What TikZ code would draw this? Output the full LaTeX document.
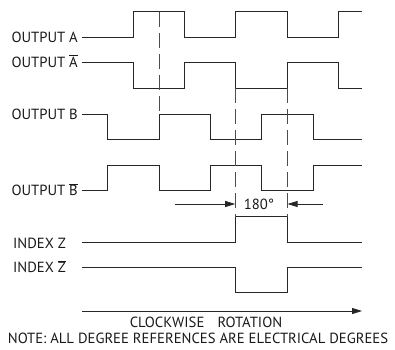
\documentclass[tikz,border=0pt]{standalone}
\usepackage{fontspec}
\setmainfont{PT Sans}
\usetikzlibrary{arrows.meta}
\newcommand\ovlbar[1]{\ensuremath{\overline{\mbox{#1}}}}
\begin{document}
\begin{tikzpicture}[x=1pt,y=-1pt,
  sig/.style={line width=1pt, draw=black!85, line join=miter},
  dsh/.style={line width=1pt, draw=black!70, dash pattern=on 15pt off 6pt},
  txt/.style={font=\fontsize{14.7}{16}\selectfont, inner sep=0pt, text=black!90},
  lbl/.style={txt, anchor=base east},
  arr/.style={line width=0.8pt, draw=black!85, -{Triangle[length=10pt,width=6pt]}}]
\useasboundingbox (0,0) rectangle (395,349);
% labels
\node[lbl] (la)  at (78,42.3) {OUTPUT A};
\node[lbl] (lab) at (78,67.4) {OUTPUT \ovlbar{A}};
\node[lbl] (lb)  at (78,119.2) {OUTPUT B};
\node[lbl] (lbb) at (78,195.6) {OUTPUT \ovlbar{B}};
\node[lbl] (lz)  at (66,248) {INDEX Z};
\node[lbl] (lzb) at (66,272.5) {INDEX \ovlbar{Z}};
% waveforms
\draw[sig] (82,37.3) -- (133.3,37.3) -- (133.3,11.7) -- (184.5,11.7) -- (184.5,37.3) -- (235.7,37.3) -- (235.7,11.7) -- (287,11.7) -- (287,37.3) -- (338.3,37.3) -- (338.3,11.7) -- (362,11.7);
\draw[sig] (82,62.3) -- (133.3,62.3) -- (133.3,88.3) -- (184.5,88.3) -- (184.5,62.3) -- (235.7,62.3) -- (235.7,88.3) -- (287,88.3) -- (287,62.3) -- (338.3,62.3) -- (338.3,88.3) -- (362,88.3);
\draw[sig] (82,114) -- (107.7,114) -- (107.7,139.3) -- (159,139.3) -- (159,114) -- (210.5,114) -- (210.5,139.3) -- (261.7,139.3) -- (261.7,114) -- (313,114) -- (313,139.3) -- (362,139.3);
\draw[sig] (82,190.7) -- (107.7,190.7) -- (107.7,165) -- (159,165) -- (159,190.7) -- (210.5,190.7) -- (210.5,165) -- (261.7,165) -- (261.7,190.7) -- (313,190.7) -- (313,165) -- (362,165);
\draw[sig] (82,242.7) -- (235.7,242.7) -- (235.7,216.7) -- (287,216.7) -- (287,242.7) -- (362,242.7);
\draw[sig] (82,267.3) -- (235.7,267.3) -- (235.7,292.7) -- (287,292.7) -- (287,267.3) -- (362,267.3);
% dashed references
\draw[dsh] (159,12) -- (159,114);
\draw[dsh] (235.7,88.3) -- (235.7,216.7);
\draw[dsh] (287,88.3) -- (287,216.7);
% 180 degree dimension
\coordinate (d1s) at (175,204);
\coordinate (d1e) at (235.2,204);
\coordinate (d2s) at (323,204);
\coordinate (d2e) at (287.5,204);
\draw[arr] (d1s) -- (d1e);
\draw[arr] (d2s) -- (d2e);
\node[txt] (deg) at (259,204) {180\textdegree};
% rotation
\coordinate (rs) at (82,311);
\coordinate (re) at (362,311);
\draw[arr] (rs) -- (re);
\node[txt] (cw) at (206,322) {CLOCKWISE\hspace{0.9em}ROTATION};
\node[txt] (note) at (198,338.5) {NOTE: ALL DEGREE REFERENCES ARE ELECTRICAL DEGREES};
\end{tikzpicture}
\end{document}
